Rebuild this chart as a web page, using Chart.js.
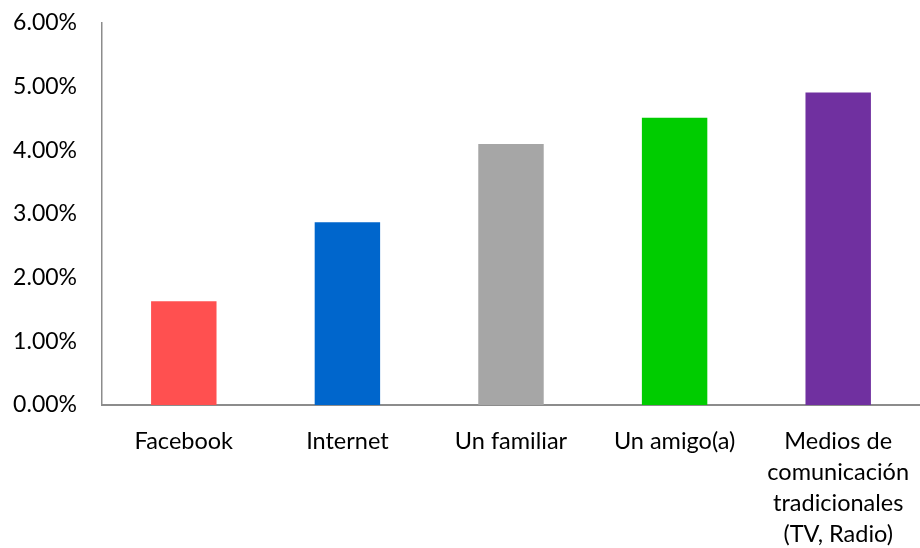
<!DOCTYPE html>
<html>
<head>
<meta charset="utf-8">
<script src="https://cdn.jsdelivr.net/npm/chart.js@4"></script>
<style>
  html, body { margin: 0; padding: 0; background: #fff; }
  #wrap { width: 920px; height: 548px; }
</style>
</head>
<body>
<div id="wrap"><canvas id="chart" width="920" height="548"></canvas></div>
<script>
// categorías y valores (porcentaje)
const categories = [
    'Facebook',
    'Internet',
    'Un familiar',
    'Un amigo(a)',
    ['Medios de', 'comunicación', 'tradicionales', '(TV, Radio)']
];
const values = [1.63, 2.87, 4.10, 4.51, 4.91];
const barColors = ['#FF5050', '#0066CC', '#A6A6A6', '#00CC00', '#7030A0'];
const yTicks = [0, 1, 2, 3, 4, 5, 6];

const axisColor = '#8c8c8c';
const fontFamily = 'Lato, "Noto Sans", sans-serif';

new Chart(document.getElementById('chart'), {
    type: 'bar',
    data: {
        labels: categories,
        datasets: [{
            data: values,
            backgroundColor: barColors,
            barPercentage: 0.4,
            categoryPercentage: 1.0
        }]
    },
    options: {
        responsive: false,
        animation: false,
        layout: { padding: { top: 23, right: 0, left: 0, bottom: 0 } },
        plugins: { legend: { display: false }, tooltip: { enabled: false } },
        scales: {
            x: {
                grid: { display: false, drawTicks: false },
                border: { display: true, color: axisColor, width: 2 },
                ticks: {
                    color: '#000',
                    padding: 21,
                    maxRotation: 0,
                    autoSkip: false,
                    font: { family: fontFamily, size: 23.5, lineHeight: 1.32 }
                },
                afterFit: s => { s.height = 143; s.paddingLeft = 0; s.paddingRight = 0; }
            },
            y: {
                min: 0,
                max: 6,
                grid: { display: false, drawTicks: false },
                border: { display: true, color: axisColor, width: 1.5 },
                afterBuildTicks: s => { s.ticks = yTicks.map(v => ({ value: v })); },
                ticks: {
                    color: '#000',
                    padding: 25,
                    font: { family: fontFamily, size: 23 },
                    callback: v => v.toFixed(2) + '%'
                },
                afterFit: s => { s.width = 102; s.paddingTop = 0; s.paddingBottom = 0; }
            }
        }
    }
});
</script>
</body>
</html>
